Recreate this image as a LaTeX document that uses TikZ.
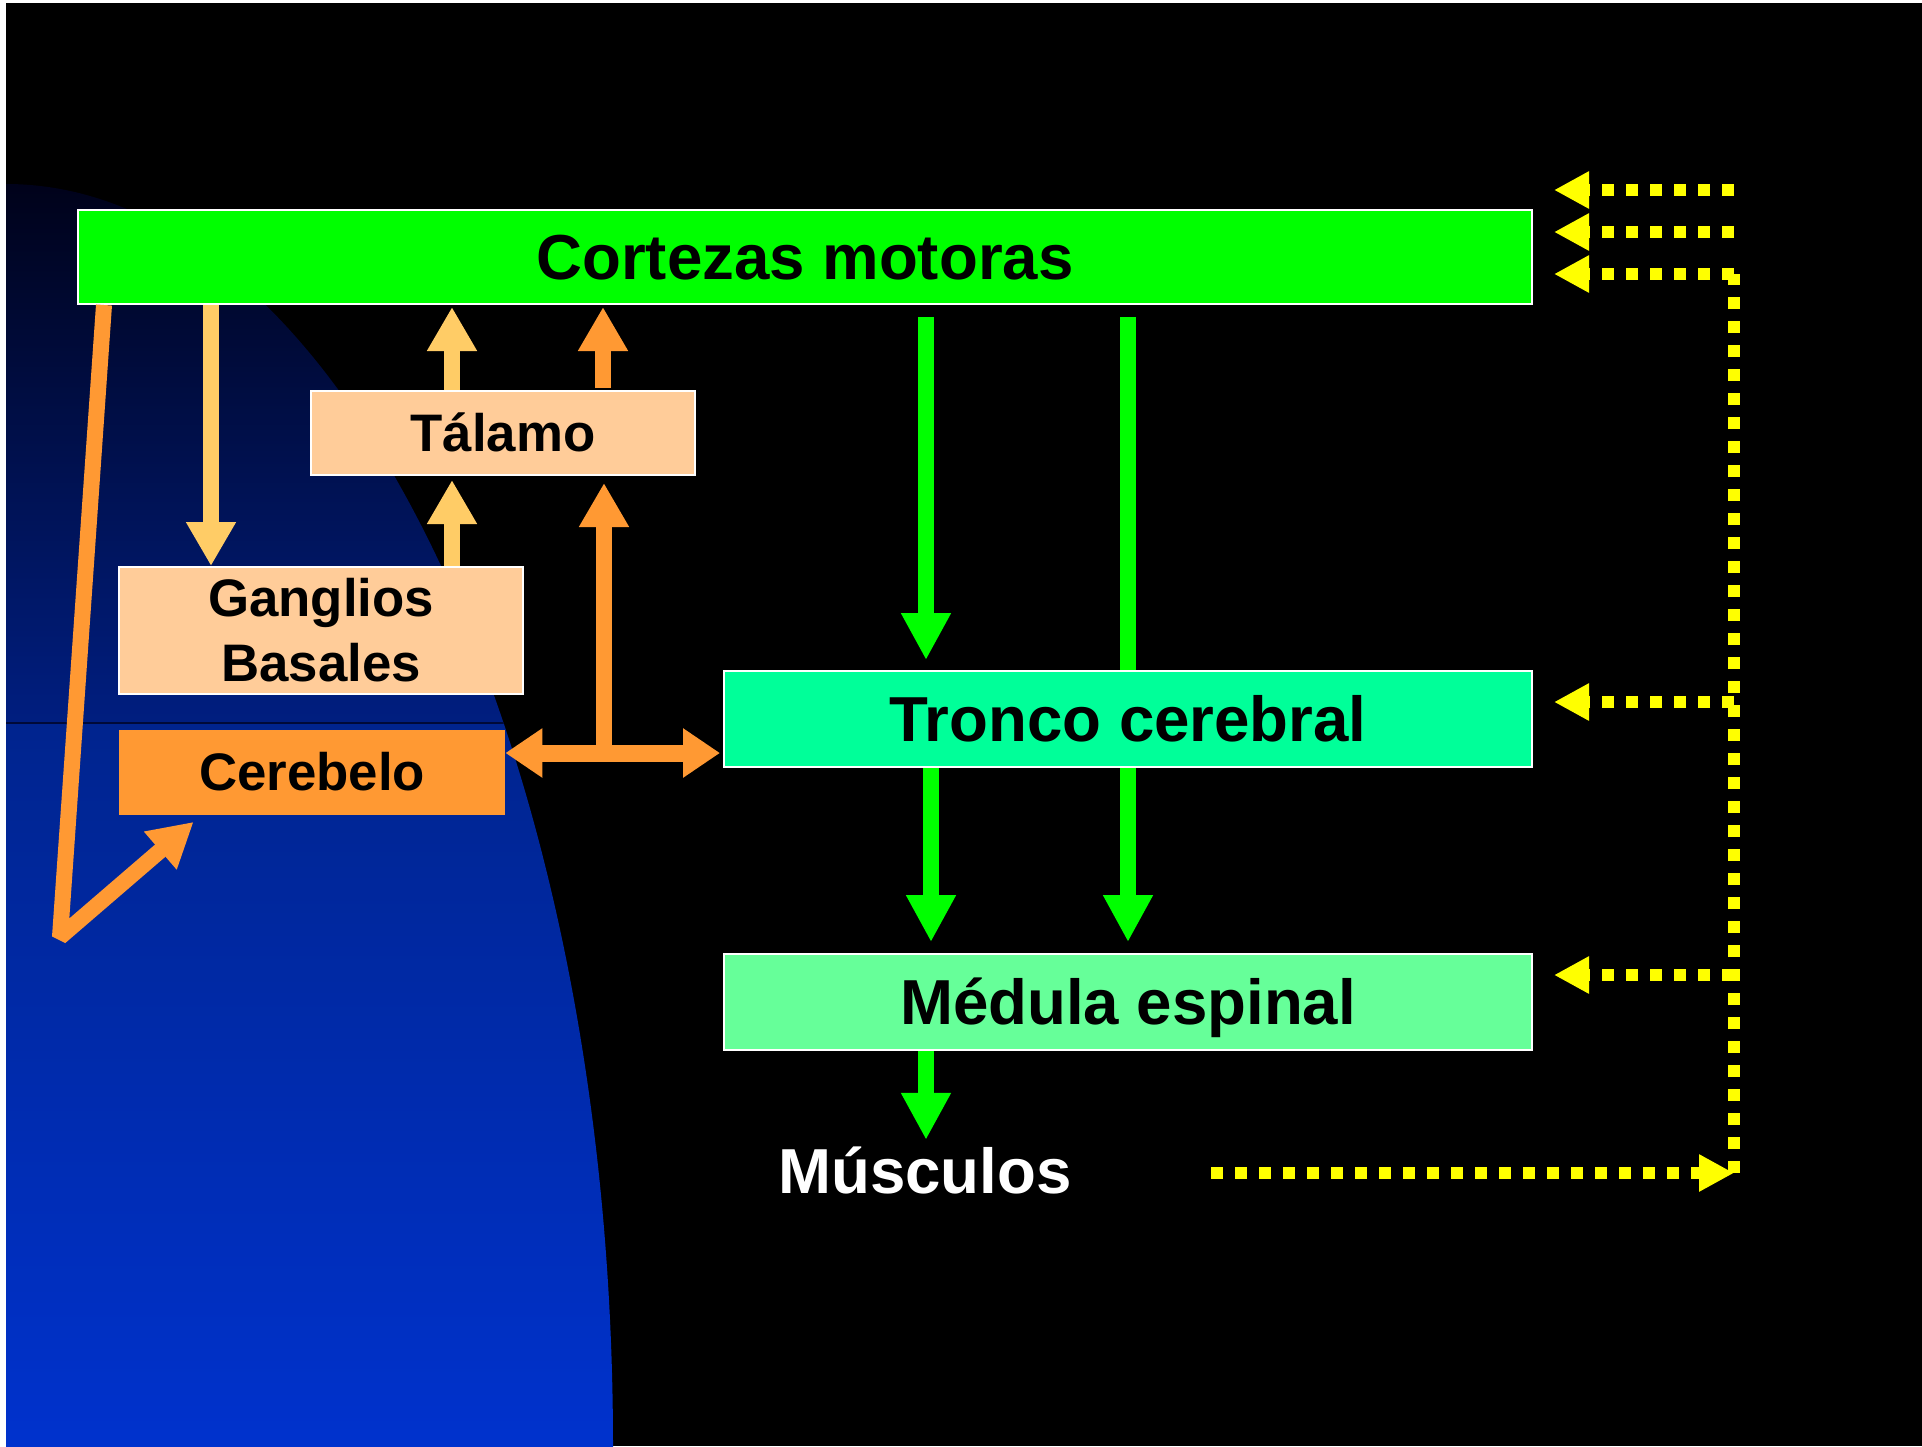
\documentclass[tikz,border=0pt]{standalone}
\usepackage{fontspec}
\setmainfont{Liberation Sans}
\usetikzlibrary{arrows.meta}
\definecolor{verde}{RGB}{0,255,0}
\definecolor{verdetronco}{RGB}{0,255,153}
\definecolor{verdemedula}{RGB}{102,255,153}
\definecolor{piel}{RGB}{255,204,153}
\definecolor{naranja}{RGB}{255,153,51}
\definecolor{crema}{RGB}{255,204,102}
\definecolor{amarillo}{RGB}{255,255,0}
\definecolor{azulA}{RGB}{0,2,26}
\definecolor{azulB}{RGB}{0,30,128}
\definecolor{azulC}{RGB}{0,36,142}
\definecolor{azulD}{RGB}{0,50,205}
\tikzset{
    caja/.style={draw=white, line width=1pt, inner sep=0pt}, % cajas con borde blanco
    linea/.style={text height=#1, text depth=0pt}, % una sola linea centrada
    grande/.style={font=\fontsize{31.8}{38}\selectfont\bfseries, linea=22.8pt},
    chica/.style={font=\fontsize{26.4}{32.5}\selectfont\bfseries},
    flechaV/.style={verde, line width=8pt, -{Triangle[length=23.5pt, width=23.5pt]}}, % flechas verdes
    flechaC/.style={crema, line width=8pt, -{Triangle[length=22pt, width=23.5pt]}},
    flechaN/.style={naranja, line width=8pt, -{Triangle[length=22pt, width=23.5pt]}},
    retro/.style={amarillo, line width=6pt, dash pattern=on 6pt off 6pt}, % retroalimentacion
    retroflecha/.style={retro, -{Triangle[length=17.5pt, width=17.5pt]}}
}

\begin{document}
\begin{tikzpicture}[x=0.5pt, y=-0.5pt]
    \useasboundingbox (0,0) rectangle (1922,1446);
    \fill[white] (0,0) rectangle (1922,1446);
    \fill[black] (6,3) rectangle (1922,1446);

    \begin{scope}
        \clip (6,3) rectangle (1922,1446);
        \clip (6,1446) ellipse [x radius=303.5pt, y radius=631pt];
        \shade[top color=azulA, bottom color=azulB] (6,184) rectangle (620,723);
        \shade[top color=azulC, bottom color=azulD] (6,723) rectangle (620,1446);
        \draw[azulA!70!azulB, line width=0.6pt] (6,723) -- (620,723);
    \end{scope}

    \coordinate (colA) at (211,0);
    \coordinate (colB) at (452,0);
    \coordinate (colC) at (603,0);
    \coordinate (colD) at (926,0);
    \coordinate (colE) at (931,0);
    \coordinate (colF) at (1128,0);
    \coordinate (cruce) at (604,753);
    \coordinate (vertice) at (60,937);

    \node[caja, grande, fill=verde, minimum width=727pt, minimum height=47pt] (cortex) at (805,257) {Cortezas motoras};
    \node[caja, grande, fill=verdemedula, minimum width=404pt, minimum height=48pt] (medula) at (1128,1002) {Médula espinal};

    \draw[flechaV, shorten <=6pt, shorten >=5.5pt] (cortex.south -| colF) -- (medula.north -| colF);

    \node[caja, grande, fill=verdetronco, minimum width=404pt, minimum height=48pt] (tronco) at (1128,719) {Tronco cerebral};
    \node[caja, chica, linea=18.9pt, fill=piel, minimum width=192pt, minimum height=42pt] (talamo) at (503,433) {Tálamo};
    \node[caja, chica, fill=piel, align=center, minimum width=202pt, minimum height=63.5pt] (ganglios) at (321,630.5) {Ganglios\\Basales};
    \node[chica, linea=18.9pt, fill=naranja, inner sep=0pt, minimum width=193pt, minimum height=42.5pt] (cerebelo) at (312,772) {Cerebelo};
    \node[grande, text=white, inner sep=0pt] (musculos) at (925,1171) {Músculos};

    \draw[flechaV, shorten <=6pt, shorten >=5pt] (cortex.south -| colD) -- (tronco.north -| colD);
    \draw[flechaV, shorten >=5.5pt] (tronco.south -| colE) -- (medula.north -| colE);
    \draw[flechaV, shorten >=4pt] (medula.south -| colD) -- (musculos.north -| colD);

    \draw[flechaC] (cortex.south -| colA) -- (ganglios.north -| colA);
    \draw[flechaC, shorten >=2pt] (ganglios.north -| colB) -- (talamo.south -| colB);
    \draw[flechaC, shorten >=1pt] (talamo.north -| colB) -- (cortex.south -| colB);
    \draw[flechaN, shorten <=1pt, shorten >=1pt] (talamo.north -| colC) -- (cortex.south -| colC);

    \draw[naranja, line width=8.5pt, {Triangle[length=18.5pt, width=23.5pt]}-{Triangle[length=18.5pt, width=23.5pt]}, shorten >=1.5pt]
        (cerebelo.east |- cruce) -- (tronco.west |- cruce);
    \draw[flechaN, shorten >=3.5pt] (cruce) -- (talamo.south -| cruce);
    \draw[flechaN, line join=bevel] ([xshift=13.5pt]cortex.south west) -- (vertice) -- ([xshift=37.5pt, yshift=-3.5pt]cerebelo.south west);

    \coordinate (fbA) at (1734,190);
    \coordinate (fbB) at (1734,232);
    \coordinate (fbC) at (1734,274);
    \coordinate (fbD) at (1734,702);
    \coordinate (fbE) at (1734,975);
    \coordinate (fbF) at (1734,1173);
    \coordinate (fbin) at (1211,1173);

    \draw[retro] (fbF) -- (fbC);
    \foreach \fb / \destino in {fbA/cortex, fbB/cortex, fbC/cortex, fbD/tronco, fbE/medula} {
        \draw[retroflecha, shorten >=10.5pt] (\fb) -- (\destino.east |- \fb);
    }
    \draw[retroflecha] (fbin) -- (fbF);

\end{tikzpicture}
\end{document}
